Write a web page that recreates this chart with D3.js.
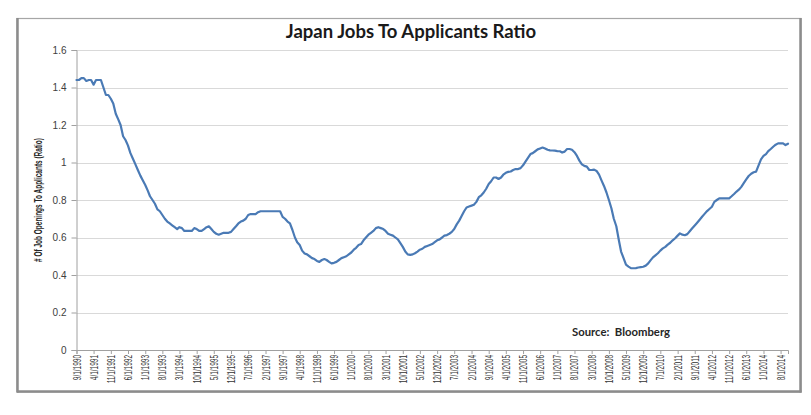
<!DOCTYPE html>
<html>
<head>
<meta charset="utf-8">
<script src="https://cdn.jsdelivr.net/npm/d3@7"></script>
<style>
  html, body { margin: 0; padding: 0; background: #fff; }
  svg { display: block; }
  text { white-space: pre; }
</style>
</head>
<body>
<svg id="chart" width="811" height="415"></svg>
<script>
// ---------------- DATA ----------------
const title = "Japan Jobs To Applicants Ratio";
const yAxisTitle = "# Of Job Openings To Applicants (Ratio)";
const sourceText = "Source:  Bloomberg";
const startYear = 1990, startMonth = 9; // first observation: 9/1/1990 (monthly)

const v1990 = [1.44, 1.44, 1.45, 1.45];
const v1991 = [1.435, 1.44, 1.44, 1.415, 1.44, 1.44, 1.44, 1.40, 1.36, 1.36, 1.34, 1.315];
const v1992 = [1.26, 1.23, 1.20, 1.14, 1.12, 1.09, 1.05, 1.02, 0.99, 0.96, 0.93, 0.905];
const v1993 = [0.88, 0.85, 0.82, 0.80, 0.78, 0.75, 0.74, 0.72, 0.70, 0.685, 0.675, 0.665];
const v1994 = [0.655, 0.645, 0.655, 0.65, 0.635, 0.635, 0.635, 0.635, 0.65, 0.645, 0.635, 0.635];
const v1995 = [0.645, 0.655, 0.66, 0.645, 0.63, 0.62, 0.615, 0.62, 0.625, 0.625, 0.625, 0.63];
const v1996 = [0.645, 0.66, 0.675, 0.685, 0.69, 0.70, 0.72, 0.725, 0.725, 0.725, 0.735, 0.74];
const v1997 = [0.74, 0.74, 0.74, 0.74, 0.74, 0.74, 0.74, 0.74, 0.71, 0.70, 0.685, 0.675];
const v1998 = [0.64, 0.60, 0.575, 0.56, 0.53, 0.515, 0.51, 0.50, 0.49, 0.485, 0.475, 0.47];
const v1999 = [0.48, 0.485, 0.48, 0.47, 0.462, 0.465, 0.47, 0.48, 0.49, 0.495, 0.50, 0.51];
const v2000 = [0.52, 0.535, 0.545, 0.56, 0.565, 0.585, 0.60, 0.615, 0.625, 0.635, 0.65, 0.655];
const v2001 = [0.65, 0.645, 0.635, 0.62, 0.615, 0.61, 0.60, 0.59, 0.57, 0.55, 0.525, 0.51];
const v2002 = [0.507, 0.51, 0.516, 0.525, 0.535, 0.54, 0.55, 0.555, 0.56, 0.565, 0.575, 0.585];
const v2003 = [0.59, 0.60, 0.61, 0.613, 0.62, 0.63, 0.645, 0.67, 0.69, 0.715, 0.74, 0.76];
const v2004 = [0.765, 0.77, 0.775, 0.79, 0.815, 0.825, 0.84, 0.86, 0.885, 0.90, 0.92, 0.92];
const v2005 = [0.912, 0.92, 0.935, 0.945, 0.95, 0.952, 0.96, 0.965, 0.965, 0.97, 0.985, 1.005];
const v2006 = [1.025, 1.045, 1.05, 1.06, 1.07, 1.075, 1.08, 1.075, 1.068, 1.065, 1.064, 1.063];
const v2007 = [1.061, 1.06, 1.053, 1.058, 1.072, 1.072, 1.068, 1.055, 1.035, 1.01, 0.99, 0.982];
const v2008 = [0.978, 0.96, 0.96, 0.962, 0.955, 0.935, 0.905, 0.875, 0.84, 0.80, 0.756, 0.70];
const v2009 = [0.66, 0.587, 0.525, 0.49, 0.455, 0.445, 0.437, 0.436, 0.437, 0.44, 0.442, 0.444];
const v2010 = [0.45, 0.462, 0.478, 0.494, 0.505, 0.516, 0.53, 0.542, 0.55, 0.562, 0.572, 0.585];
const v2011 = [0.596, 0.61, 0.622, 0.615, 0.612, 0.618, 0.633, 0.649, 0.664, 0.679, 0.695, 0.711];
const v2012 = [0.726, 0.741, 0.752, 0.764, 0.79, 0.80, 0.809, 0.809, 0.809, 0.809, 0.809, 0.82];
const v2013 = [0.832, 0.845, 0.855, 0.87, 0.89, 0.91, 0.928, 0.94, 0.948, 0.951, 0.985, 1.017];
const v2014 = [1.035, 1.045, 1.061, 1.072, 1.084, 1.095, 1.102, 1.102, 1.102, 1.093, 1.10];

const values = [].concat(v1990, v1991, v1992, v1993, v1994, v1995, v1996, v1997, v1998,
  v1999, v2000, v2001, v2002, v2003, v2004, v2005, v2006, v2007, v2008, v2009, v2010,
  v2011, v2012, v2013, v2014);

const xTickLabels = ["9/1/1990","4/1/1991","11/1/1991","6/1/1992","1/1/1993","8/1/1993",
  "3/1/1994","10/1/1994","5/1/1995","12/1/1995","7/1/1996","2/1/1997","9/1/1997","4/1/1998",
  "11/1/1998","6/1/1999","1/1/2000","8/1/2000","3/1/2001","10/1/2001","5/1/2002","12/1/2002",
  "7/1/2003","2/1/2004","9/1/2004","4/1/2005","11/1/2005","6/1/2006","1/1/2007","8/1/2007",
  "3/1/2008","10/1/2008","5/1/2009","12/1/2009","7/1/2010","2/1/2011","9/1/2011","4/1/2012",
  "11/1/2012","6/1/2013","1/1/2014","8/1/2014"];
const yTicks = [0, 0.2, 0.4, 0.6, 0.8, 1, 1.2, 1.4, 1.6];

// ---------------- CHART ----------------
const svg = d3.select("#chart");
const plot = { left: 76.5, right: 788, top: 50, bottom: 350 };

const parse = d3.timeParse("%m/%d/%Y");
const dates = values.map((v, i) => new Date(startYear, startMonth - 1 + i, 1));
const data = values.map((v, i) => ({ date: dates[i], value: v }));

const x = d3.scaleTime()
  .domain([dates[0], dates[dates.length - 1]])
  .range([plot.left, plot.right]);
const y = d3.scaleLinear().domain([0, 1.6]).range([plot.bottom, plot.top]);

// frame
svg.append("rect").attr("x", 17).attr("y", 18.5).attr("width", 784).attr("height", 373.5)
  .attr("fill", "#fff").attr("stroke", "#a6a6a6").attr("stroke-width", 1.2);
svg.append("line").attr("x1", 17.5).attr("x2", 17.5).attr("y1", 18).attr("y2", 392.5)
  .attr("stroke", "#8c8c8c").attr("stroke-width", 2.5);
svg.append("line").attr("x1", 800.5).attr("x2", 800.5).attr("y1", 18).attr("y2", 392.5)
  .attr("stroke", "#8c8c8c").attr("stroke-width", 2.5);
svg.append("line").attr("x1", 17).attr("x2", 801.5).attr("y1", 391.5).attr("y2", 391.5)
  .attr("stroke", "#8c8c8c").attr("stroke-width", 2.5);

// gridlines
svg.append("g").selectAll("line").data(yTicks.filter(d => d > 0)).join("line")
  .attr("x1", plot.left).attr("x2", plot.right)
  .attr("y1", d => Math.round(y(d)) + 0.5).attr("y2", d => Math.round(y(d)) + 0.5)
  .attr("stroke", "#d9d9d9").attr("stroke-width", 1);

// y axis
const yAxis = d3.axisLeft(y).tickValues(yTicks).tickSize(5).tickPadding(5)
  .tickFormat(d => d3.format("")(d));
const gy = svg.append("g").attr("transform", `translate(${plot.left},0)`).call(yAxis);
gy.select(".domain").attr("stroke", "#a0a0a0");
gy.selectAll(".tick line").attr("stroke", "#a0a0a0");
gy.selectAll(".tick text").attr("font-family", "'Liberation Sans', Arial, sans-serif")
  .attr("font-size", 10).attr("fill", "#404040");

// x axis
const tickDates = xTickLabels.map(parse);
const xAxis = d3.axisBottom(x).tickValues(tickDates).tickSize(4).tickPadding(3)
  .tickFormat((d, i) => xTickLabels[i]);
const gx = svg.append("g").attr("transform", `translate(0,${plot.bottom})`).call(xAxis);
gx.select(".domain").attr("stroke", "#a0a0a0");
gx.selectAll(".tick line").attr("stroke", "#a0a0a0");
gx.selectAll(".tick text")
  .attr("font-family", "'Liberation Sans Narrow', 'Arial Narrow', sans-serif")
  .attr("font-size", 10).attr("fill", "#333")
  .attr("text-anchor", "end").attr("dy", "0.35em")
  .attr("transform", "translate(0,5) rotate(-90)")
  .attr("x", 0).attr("y", 0)
  .attr("textLength", (d, i) => xTickLabels[i].length * 3.15)
  .attr("lengthAdjust", "spacingAndGlyphs");

// line
const line = d3.line().x(d => x(d.date)).y(d => y(d.value)).curve(d3.curveLinear);
svg.append("path").datum(data).attr("d", line)
  .attr("fill", "none").attr("stroke", "#4a7ab5").attr("stroke-width", 2.2)
  .attr("stroke-linejoin", "round").attr("stroke-linecap", "round");

// title
svg.append("text").attr("x", 411).attr("y", 38).attr("text-anchor", "middle")
  .attr("font-family", "Lato, 'Open Sans', sans-serif").attr("font-weight", "bold")
  .attr("font-size", 18.5).attr("fill", "#1a1a1a").text(title);

// y axis title
svg.append("text").attr("transform", "translate(42,200) rotate(-90)")
  .attr("text-anchor", "middle")
  .attr("font-family", "'Liberation Sans Narrow', 'Arial Narrow', sans-serif")
  .attr("font-weight", "bold").attr("font-size", 10.5).attr("fill", "#262626")
  .attr("textLength", 124).attr("lengthAdjust", "spacingAndGlyphs")
  .text(yAxisTitle);

// source
svg.append("text").attr("x", 572).attr("y", 336)
  .attr("font-family", "Lato, 'Open Sans', sans-serif").attr("font-weight", "bold")
  .attr("font-size", 11.3).attr("fill", "#262626").text(sourceText);
</script>
</body>
</html>
